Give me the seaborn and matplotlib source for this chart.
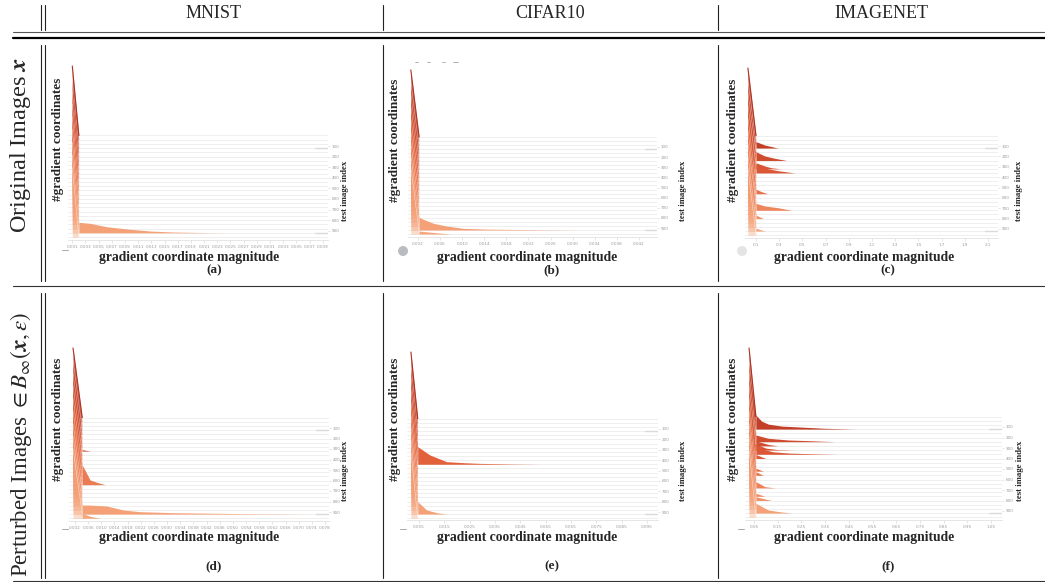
import numpy as np
import matplotlib
matplotlib.use("Agg")
import matplotlib.pyplot as plt
import seaborn as sns
from matplotlib.lines import Line2D
from matplotlib.patches import Ellipse
from matplotlib.mathtext import MathTextParser

# ---------------- data ----------------
COLUMNS = ["MNIST", "CIFAR10", "IMAGENET"]
PANEL_TAGS = ["(a)", "(b)", "(c)", "(d)", "(e)", "(f)"]
XLABEL = "gradient coordinate magnitude"
YLABEL = "#gradient coordinates"
ZLABEL = "test image index"

RIDGES = [0, 40, 80, 120, 160, 200, 240, 280, 320, 360, 400, 440, 480,
          520, 560, 600, 640, 680, 720, 760, 800, 840, 880, 920, 960]
IDX_TICKS = [100, 200, 300, 400, 500, 600, 700, 800, 900]

A_XTICKS = [0.001, 0.003, 0.005, 0.007, 0.009, 0.011, 0.013, 0.015, 0.017, 0.019,
            0.021, 0.023, 0.025, 0.027, 0.029, 0.031, 0.033, 0.035, 0.037, 0.039]
B_XTICKS = [0.002, 0.006, 0.010, 0.014, 0.018, 0.022, 0.026, 0.030, 0.034, 0.038, 0.042]
C_XTICKS = [0.1, 0.3, 0.5, 0.7, 0.9, 1.1, 1.3, 1.5, 1.7, 1.9, 2.1]
D_XTICKS = [0.002, 0.006, 0.010, 0.014, 0.018, 0.022, 0.026, 0.030, 0.034, 0.038,
            0.042, 0.046, 0.050, 0.054, 0.058, 0.062, 0.066, 0.070, 0.074, 0.078]
E_XTICKS = [0.005, 0.015, 0.025, 0.035, 0.045, 0.055, 0.065, 0.075, 0.085, 0.095]
F_XTICKS = [0.05, 0.15, 0.25, 0.35, 0.45, 0.55, 0.65, 0.75, 0.85, 0.95, 1.05]

# spike: first-bin peak position, second-bin position, peak height (per panel)
SPIKE_X0 = [0.001, 0.0007, 0.03, 0.0014, 0.0018, 0.029]
SPIKE_X1 = [0.002, 0.0022, 0.10, 0.0042, 0.0045, 0.058]
SPIKE_H = [69.4, 67.0, 67.6, 69.5, 66.6, 68.5]

# ridges with a visible tail (index, x values, heights)
A_TAIL_IDX = [920]
A_TAIL_X = [[0.002, 0.0037, 0.0062, 0.0098, 0.0128, 0.0163, 0.0214, 0.0245]]
A_TAIL_H = [[10.5, 9.5, 6.1, 3.5, 1.8, 0.8, 0.2, 0.0]]

B_TAIL_IDX = [920, 960]
B_TAIL_X = [[0.0022, 0.0033, 0.0048, 0.0072, 0.0102, 0.0144, 0.0223, 0.0313],
            [0.0022, 0.0050, 0.0080]]
B_TAIL_H = [[12.7, 10.0, 6.7, 4.0, 1.7, 0.9, 0.4, 0.0],
            [3.0, 1.5, 0.0]]

C_TAIL_IDX = [120, 240, 320, 360, 560, 720, 800, 920]
C_TAIL_X = [[0.10, 0.177, 0.29],
            [0.10, 0.177, 0.263, 0.364],
            [0.10, 0.177, 0.234, 0.32],
            [0.10, 0.177, 0.29, 0.436],
            [0.10, 0.149, 0.20],
            [0.10, 0.177, 0.29, 0.408],
            [0.10, 0.163],
            [0.10, 0.177]]
C_TAIL_H = [[6.4, 3.0, 0.0],
            [8.8, 4.5, 2.2, 0.0],
            [6.0, 2.8, 1.0, 0.0],
            [8.0, 4.7, 2.3, 0.0],
            [4.4, 2.0, 0.0],
            [7.0, 4.3, 2.6, 0.0],
            [3.6, 0.0],
            [2.8, 0.0]]

D_TAIL_IDX = [320, 640, 920, 960]
D_TAIL_X = [[0.0042, 0.0066],
            [0.0042, 0.0066, 0.0095, 0.0112],
            [0.0042, 0.0066, 0.0095, 0.0116, 0.0167, 0.0218, 0.0319, 0.0522, 0.0725],
            [0.0042, 0.0066, 0.0096]]
D_TAIL_H = [[1.5, 0.0],
            [19.7, 4.7, 1.5, 0.0],
            [9.1, 9.0, 8.5, 8.1, 4.1, 2.4, 1.4, 0.5, 0.0],
            [5.0, 2.0, 0.0]]

E_TAIL_IDX = [440, 920]
E_TAIL_X = [[0.0045, 0.0093, 0.0159, 0.0225, 0.029, 0.0422, 0.0527],
            [0.0045, 0.0080, 0.0120, 0.0159]]
E_TAIL_H = [[17.6, 9.3, 2.6, 1.6, 0.9, 0.3, 0.0],
            [12.4, 4.1, 1.4, 0.0]]

F_TAIL_IDX = [120, 240, 280, 320, 360, 400, 520, 560, 680, 760, 800, 920]
F_TAIL_X = [[0.058, 0.082, 0.110, 0.167, 0.251, 0.35, 0.476],
            [0.058, 0.110, 0.195, 0.307, 0.392],
            [0.058, 0.110, 0.150],
            [0.058, 0.10, 0.15, 0.22],
            [0.058, 0.09, 0.13, 0.20, 0.30, 0.40],
            [0.058, 0.10],
            [0.058, 0.089],
            [0.058, 0.089],
            [0.058, 0.096, 0.139],
            [0.058, 0.096],
            [0.058, 0.096, 0.124],
            [0.058, 0.110, 0.167, 0.209]]
F_TAIL_H = [[14.0, 8.0, 5.0, 3.0, 2.0, 0.8, 0.0],
            [6.7, 3.4, 1.7, 0.8, 0.0],
            [5.0, 1.5, 0.0],
            [6.0, 2.0, 0.5, 0.0],
            [10.0, 5.0, 2.5, 1.2, 0.5, 0.0],
            [4.0, 0.0],
            [2.8, 0.0],
            [3.6, 0.0],
            [6.2, 1.2, 0.0],
            [3.0, 0.0],
            [3.8, 1.5, 0.0],
            [9.8, 3.1, 1.1, 0.0]]

# ---------------- style ----------------
sns.set_theme(style="white")
plt.rcParams["font.family"] = ["Liberation Serif", "DejaVu Serif"]
plt.rcParams["mathtext.fontset"] = "stix"

W, H = 1045, 582
fig = plt.figure(figsize=(W / 100, H / 100), dpi=100)
fig.patch.set_facecolor("white")


def fx(x):
    return x / W


def fy(y):
    return 1 - y / H


def mt_ok(s):
    try:
        MathTextParser("path").parse(s)
        return True
    except Exception:
        return False


bold_x = r"\mathbf{x}"
for cand in [r"\boldsymbol{x}", r"\mathbfit{x}"]:
    if mt_ok("$" + cand + "$"):
        bold_x = cand
        break

ROW_LABELS = ["Original Images $" + bold_x + "$",
              r"Perturbed Images $\in B_{\infty}(" + bold_x + r", \epsilon)$"]

# ---------------- table rules ----------------
def hline(y, lw, color="black", x0=13, x1=W):
    fig.add_artist(Line2D([fx(x0), fx(x1)], [fy(y), fy(y)], lw=lw, color=color))


def vline(x, y0, y1, lw=0.8, color="black"):
    fig.add_artist(Line2D([fx(x), fx(x)], [fy(y0), fy(y1)], lw=lw, color=color))


hline(31.5, 0.8, "#555555")
hline(38, 1.6, "black")
hline(286, 0.8, "#333333")
hline(581, 0.8, "#333333")
for seg in [(5, 30), (45, 281), (293, 578)]:
    for x in [41, 45, 383, 718]:
        vline(x, seg[0], seg[1], lw=0.8, color="#222222")

for name, cx in zip(COLUMNS, [214, 550, 881]):
    fig.text(fx(cx), fy(13), name, ha="center", va="center", fontsize=13)

fig.text(fx(21), fy(145), ROW_LABELS[0], rotation=90, ha="center", va="center",
         fontsize=17.5)
fig.text(fx(21), fy(444), ROW_LABELS[1], rotation=90, ha="center", va="center",
         fontsize=16.5)

# ---------------- panels ----------------
# layout: L, R, top, bottom (px), px of idx 100, px of idx 900, xlim
LAYOUT = [
    (68, 328, 60, 240, 146, 230.7, 0.00035, 0.0398),
    (408, 657, 60, 237, 147, 228, 0.00019, 0.04526),
    (745, 998, 60, 238, 146, 229, 0.005, 2.186),
    (69, 329, 340, 521, 428, 512, 0.00018, 0.0792),
    (407, 658, 340, 520, 429, 512, 0.00026, 0.0993),
    (745, 1002, 340, 520, 427, 511, 0.012, 1.096),
]
XTICKS = [A_XTICKS, B_XTICKS, C_XTICKS, D_XTICKS, E_XTICKS, F_XTICKS]
XFMT = ["{:.3f}", "{:.3f}", "{:.1f}", "{:.3f}", "{:.3f}", "{:.2f}"]
TAILS = [(A_TAIL_IDX, A_TAIL_X, A_TAIL_H), (B_TAIL_IDX, B_TAIL_X, B_TAIL_H),
         (C_TAIL_IDX, C_TAIL_X, C_TAIL_H), (D_TAIL_IDX, D_TAIL_X, D_TAIL_H),
         (E_TAIL_IDX, E_TAIL_X, E_TAIL_H), (F_TAIL_IDX, F_TAIL_X, F_TAIL_H)]
LABEL_POS = [  # ylabel x, ylabel y, zlabel x, zlabel y, xlabel x, xlabel y, tag x, tag y
    (58, 139, 345, 191, 189, 258, 214, 270),
    (395, 140, 683, 191, 527, 258, 552, 270),
    (733, 140, 1019, 191, 864, 258, 888, 270),
    (58, 419, 345, 471, 189, 538, 214, 566),
    (395, 419, 683, 471, 527, 538, 552, 566),
    (733, 419, 1020, 471, 864, 538, 888, 566),
]

pal = sns.blend_palette(["#b7321f", "#e6653d", "#f6a67c"], n_colors=len(RIDGES))

for p in range(6):
    L, R, T, B, p100, p900, xlo, xhi = LAYOUT[p]
    s = (p900 - p100) / 800.0
    ax = fig.add_axes([fx(L), fy(B), (R - L) / W, (B - T) / H])
    ax.set_facecolor("none")
    ax.set_xlim(xlo, xhi)
    ax.set_ylim(100 + (B - p100) / s, 100 + (T - p100) / s)

    # ridge planes
    for r in RIDGES:
        ax.plot([xlo, xhi], [r, r], color="#ededed", lw=0.6, zorder=1)
    for r in [120, 920]:
        ax.plot([xlo + 0.95 * (xhi - xlo), xhi], [r, r], color="#dadada", lw=1.0, zorder=1)

    tidx, tx, th = TAILS[p]
    x0, x1, hs0 = SPIKE_X0[p], SPIKE_X1[p], SPIKE_H[p]
    for i, r in enumerate(RIDGES):
        col = pal[i]
        z = 2 + i
        sx = np.array([x0, x1])
        v1 = 0.0
        if r in tidx:
            j = tidx.index(r)
            v1 = th[j][0]
        sy = np.array([hs0, v1])
        ax.fill_between(sx, r - sy / s, r, color=col, alpha=0.4, lw=0, zorder=z)
        if i == 0:
            ax.plot(sx, r - sy / s, color="#b03020", lw=0.8, zorder=40)
        elif i % 3 == 0:
            ax.plot(sx, r - sy / s, color="white", lw=0.4, alpha=0.6, zorder=z + 0.1)
        if r in tidx:
            j = tidx.index(r)
            xs = np.array(tx[j])
            ys = np.array(th[j])
            ax.fill_between(xs, r - ys / s, r, color=col, lw=0, zorder=z)

    sns.despine(ax=ax, left=True, right=True, top=True, bottom=False)
    ax.spines["bottom"].set_color("#e2e2e2")
    ax.spines["bottom"].set_linewidth(0.6)
    ax.set_xticks(XTICKS[p])
    ax.set_xticklabels([XFMT[p].format(v) for v in XTICKS[p]], fontfamily="DejaVu Sans")
    ax.set_yticks(IDX_TICKS)
    ax.set_yticklabels([str(v) for v in IDX_TICKS], fontfamily="DejaVu Sans")
    ax.yaxis.tick_right()
    ax.tick_params(axis="x", length=2, width=0.4, color="#d0d0d0", labelsize=3.0,
                   labelcolor="#9a9a9a", pad=1.5, bottom=True)
    ax.tick_params(axis="y", length=1.5, width=0.4, color="#d0d0d0", labelsize=3.0,
                   labelcolor="#9a9a9a", pad=1.2, right=True, left=False)
    ax.grid(False)

    yx, yy, zx, zy, xx, xy, tgx, tgy = LABEL_POS[p]
    fig.text(fx(yx), fy(yy), YLABEL, rotation=90, ha="center", va="center",
             fontsize=9.5, fontweight="bold")
    fig.text(fx(zx), fy(zy), ZLABEL, rotation=90, ha="center", va="center",
             fontsize=6.3, fontweight="bold")
    fig.text(fx(xx), fy(xy), XLABEL, ha="center", va="center",
             fontsize=9.8, fontweight="bold")
    fig.text(fx(tgx), fy(tgy), PANEL_TAGS[p], ha="center", va="center",
             fontsize=9.5, fontweight="bold")

# small toolbar artefacts
for (x, y) in [(65, 250), (65, 529), (403, 529), (741, 529)]:
    fig.add_artist(Line2D([fx(x - 3), fx(x + 3)], [fy(y), fy(y)], lw=0.6, color="#9a9a9a"))
fig.add_artist(Ellipse((fx(403), fy(251)), 10 / W, 10 / H, color="#b9bcc0", lw=0))
fig.add_artist(Ellipse((fx(742), fy(251)), 10 / W, 10 / H, color="#e4e4e4", lw=0))
for (a, b) in [(415, 418), (427, 430), (442, 445), (453, 458)]:
    fig.add_artist(Line2D([fx(a), fx(b)], [fy(62), fy(62)], lw=0.6, color="#a8a8a8"))

fig.savefig("out.png", dpi=100, facecolor="white")
